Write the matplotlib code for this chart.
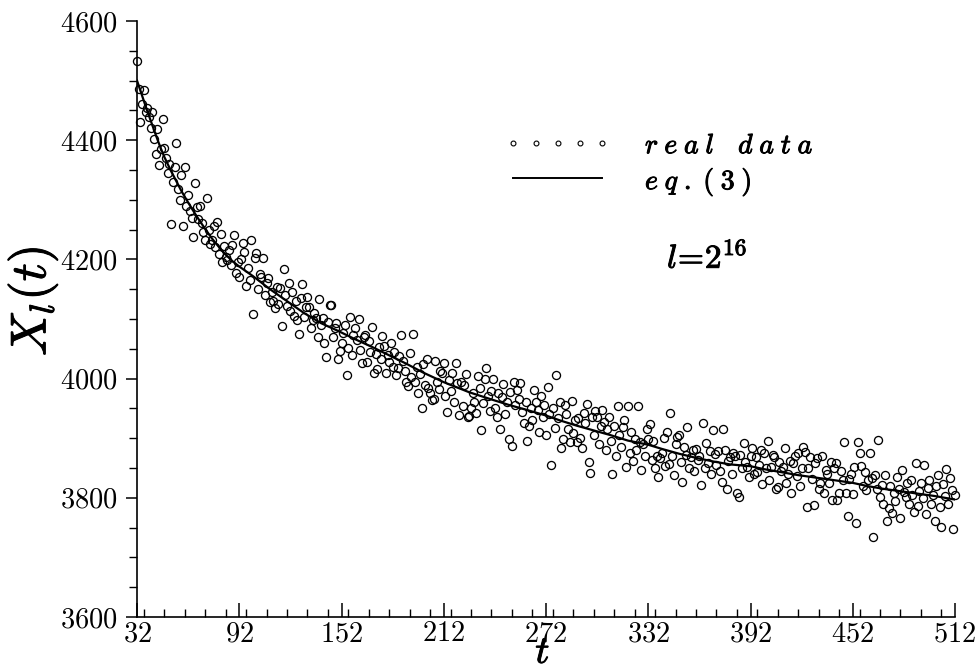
import numpy as np
import matplotlib
matplotlib.use("Agg")
import matplotlib.pyplot as plt
from matplotlib.ticker import MultipleLocator
import matplotlib.patheffects as pe

plt.rcParams['font.family'] = 'serif'
plt.rcParams['font.serif'] = ['cmr10']
plt.rcParams['mathtext.fontset'] = 'cm'
plt.rcParams['axes.formatter.use_mathtext'] = True

t_start = 32
x_data = [
    4533, 4486, 4430, 4461, 4484, 4447, 4454, 4439, 4420, 4447,   # 32-41
    4402, 4377, 4419, 4358, 4385, 4436, 4387, 4370, 4345, 4360,   # 42-51
    4259, 4330, 4355, 4395, 4318, 4300, 4342, 4256, 4355, 4290,   # 52-61
    4308, 4281, 4270, 4238, 4328, 4288, 4268, 4290, 4261, 4246,   # 62-71
    4232, 4303, 4250, 4225, 4232, 4256, 4220, 4263, 4209, 4243,   # 72-81
    4195, 4222, 4204, 4199, 4215, 4191, 4224, 4241, 4178, 4196,   # 82-91
    4170, 4200, 4228, 4212, 4155, 4185, 4165, 4233, 4108, 4202,   # 92-101
    4211, 4150, 4175, 4170, 4202, 4140, 4160, 4169, 4128, 4145,   # 102-111
    4130, 4118, 4154, 4125, 4152, 4088, 4184, 4140, 4122, 4160,   # 112-121
    4113, 4145, 4105, 4130, 4098, 4075, 4135, 4159, 4103, 4120,   # 122-131
    4137, 4120, 4085, 4098, 4110, 4102, 4070, 4134, 4090, 4102,   # 132-141
    4060, 4036, 4095, 4123, 4123, 4070, 4085, 4093, 4033, 4046,   # 142-151
    4060, 4077, 4090, 4006, 4052, 4103, 4040, 4073, 4085, 4065,   # 152-161
    4100, 4048, 4026, 4070, 4073, 4028, 4063, 4045, 4087, 4009,   # 162-171
    4041, 4016, 4053, 4033, 4072, 4055, 4009, 4040, 4028, 4060,   # 172-181
    4020, 4045, 4006, 4018, 4038, 4073, 4030, 4012, 3994, 3988,   # 182-191
    4043, 4002, 4075, 3994, 4020, 3976, 4008, 3951, 4025, 3990,   # 192-201
    4033, 3985, 3976, 3964, 3966, 4030, 3995, 3983, 4012, 4009,   # 202-211
    4026, 3970, 3944, 3998, 3980, 4009, 3960, 4026, 3992, 3939,   # 212-221
    3994, 3954, 3989, 4008, 3936, 3937, 3951, 3975, 3960, 3942,   # 222-231
    4004, 3985, 3914, 3959, 4000, 4018, 3970, 3946, 3980, 3999,   # 232-241
    3950, 3935, 3975, 3915, 3969, 3991, 3940, 3960, 3899, 3978,   # 242-251
    3887, 3994, 3956, 3981, 3966, 3993, 3944, 3925, 3960, 3895,   # 252-261
    3920, 3951, 3930, 3981, 3960, 3947, 3910, 3970, 3935, 3956,   # 262-271
    3905, 3986, 3940, 3855, 3951, 3917, 4006, 3934, 3960, 3884,   # 272-281
    3899, 3956, 3940, 3915, 3894, 3962, 3909, 3930, 3894, 3934,   # 282-291
    3900, 3884, 3942, 3925, 3957, 3860, 3842, 3935, 3905, 3945,   # 292-301
    3936, 3890, 3920, 3948, 3927, 3880, 3915, 3935, 3895, 3840,   # 302-311
    3920, 3870, 3954, 3905, 3885, 3919, 3930, 3852, 3954, 3875,   # 312-321
    3910, 3862, 3898, 3880, 3954, 3893, 3847, 3890, 3870, 3915,   # 322-331
    3899, 3924, 3863, 3895, 3850, 3870, 3835, 3867, 3875, 3900,   # 332-341
    3853, 3910, 3857, 3942, 3870, 3838, 3890, 3902, 3905, 3860,   # 342-351
    3826, 3885, 3872, 3919, 3850, 3868, 3880, 3845, 3882, 3863,   # 352-361
    3870, 3821, 3926, 3850, 3892, 3858, 3878, 3840, 3914, 3873,   # 362-371
    3855, 3878, 3845, 3826, 3915, 3880, 3815, 3862, 3868, 3840,   # 372-381
    3875, 3870, 3808, 3801, 3872, 3850, 3892, 3860, 3852, 3835,   # 382-391
    3870, 3884, 3840, 3868, 3843, 3855, 3880, 3823, 3875, 3850,   # 392-401
    3895, 3830, 3852, 3872, 3868, 3815, 3818, 3860, 3845, 3852,   # 402-411
    3884, 3825, 3840, 3862, 3808, 3858, 3870, 3837, 3875, 3820,   # 412-421
    3850, 3885, 3877, 3785, 3850, 3868, 3832, 3788, 3858, 3867,   # 422-431
    3815, 3825, 3870, 3808, 3847, 3840, 3825, 3860, 3796, 3850,   # 432-441
    3858, 3796, 3808, 3845, 3830, 3894, 3808, 3769, 3832, 3840,   # 442-451
    3806, 3852, 3758, 3894, 3875, 3853, 3820, 3843, 3813, 3830,   # 452-461
    3875, 3833, 3734, 3838, 3815, 3897, 3801, 3822, 3790, 3838,   # 462-471
    3761, 3783, 3820, 3774, 3808, 3795, 3835, 3815, 3766, 3847,   # 472-481
    3810, 3801, 3825, 3790, 3830, 3805, 3776, 3858, 3786, 3812,   # 482-491
    3825, 3800, 3855, 3773, 3816, 3830, 3790, 3805, 3761, 3820,   # 492-501
    3838, 3785, 3751, 3823, 3803, 3848, 3790, 3833, 3813, 3748,   # 502-511
    3805,                                                         # 512
]
t_data = np.arange(t_start, t_start + len(x_data))

# eq.(3) curve
curve_t = [32, 34, 36, 38, 40, 42, 44, 46, 48, 50, 52, 54, 56, 58, 60, 64, 68,
           72, 76, 80, 84, 88, 92, 96, 100, 110, 120, 130, 140, 150, 160, 170,
           180, 190, 200, 212, 227, 240, 250, 260, 272, 280, 290, 300, 310,
           320, 332, 340, 350, 360, 370, 380, 392, 400, 410, 420, 430, 440,
           452, 460, 470, 480, 490, 500, 512]
curve_x = [4500, 4483, 4466, 4449, 4433, 4417, 4401, 4386, 4372, 4360, 4348,
           4337, 4326, 4315, 4305, 4286, 4268, 4251, 4235, 4221, 4208, 4197,
           4188, 4180, 4172, 4150, 4130, 4110, 4093, 4080, 4066, 4053, 4039,
           4025, 4010, 3994, 3977, 3965, 3956, 3948, 3938, 3930, 3921, 3913,
           3905, 3896, 3889, 3882, 3874, 3867, 3861, 3856, 3853, 3848, 3843,
           3838, 3834, 3830, 3825, 3820, 3815, 3811, 3807, 3803, 3797]

xticks = [32, 92, 152, 212, 272, 332, 392, 452, 512]
yticks = [3600, 3800, 4000, 4200, 4400, 4600]

fig = plt.figure(figsize=(9.76, 6.71), dpi=100)
ax = fig.add_axes([0.1404, 0.0805, 0.8381, 0.8882])

ax.plot(t_data, x_data, 'o', ms=5.8, mfc='none', mec='black', mew=0.95,
        clip_on=False)
ax.plot(curve_t, curve_x, '-', color='black', lw=1.6)

ax.set_xlim(32, 512)
ax.set_ylim(3600, 4600)
ax.set_xticks(xticks)
ax.set_yticks(yticks)
ax.xaxis.set_minor_locator(MultipleLocator(12))
ax.yaxis.set_minor_locator(MultipleLocator(50))

for s in ['top', 'right']:
    ax.spines[s].set_visible(False)
for s in ['left', 'bottom']:
    ax.spines[s].set_linewidth(1.2)

ax.tick_params(axis='x', which='major', direction='in', length=10, width=1.1,
               labelsize=20.5, pad=3)
ax.tick_params(axis='x', which='minor', direction='in', length=6, width=1.0)
ax.tick_params(axis='y', which='major', direction='out', length=8, width=1.1,
               labelsize=20.5, pad=6)
ax.tick_params(axis='y', which='minor', direction='out', length=6, width=1.0)

bold = [pe.withStroke(linewidth=0.7, foreground='black')]

ax.text(-0.128, 0.53, r'$X_l(t)$', transform=ax.transAxes, fontsize=36,
        rotation=90, ha='center', va='center', path_effects=bold)
ax.text(0.496, -0.077, r'$t$', transform=ax.transAxes, fontsize=28,
        ha='center', va='baseline', path_effects=bold)

# legend drawn by hand
dots_x = np.linspace(0.46, 0.569, 5)
ax.plot(dots_x, [0.795] * 5, 'o', ms=3.5, mfc='none', mec='black', mew=0.8,
        transform=ax.transAxes)
ax.plot([0.4595, 0.568], [0.737, 0.737], '-', color='black', lw=1.4,
        transform=ax.transAxes)
ax.text(0.621, 0.778, r'$r\;e\;a\;l\quad d\;a\;t\;a$', transform=ax.transAxes,
        fontsize=20, ha='left', va='baseline', path_effects=bold)
ax.text(0.621, 0.718, r'$e\;q\;.\;(\;3\;)$', transform=ax.transAxes,
        fontsize=20, ha='left', va='baseline', path_effects=bold)
ax.text(0.648, 0.586, r'$l\!=\!2^{16}$', transform=ax.transAxes,
        fontsize=24, ha='left', va='baseline', path_effects=bold)

fig.savefig('out.png', dpi=100)
